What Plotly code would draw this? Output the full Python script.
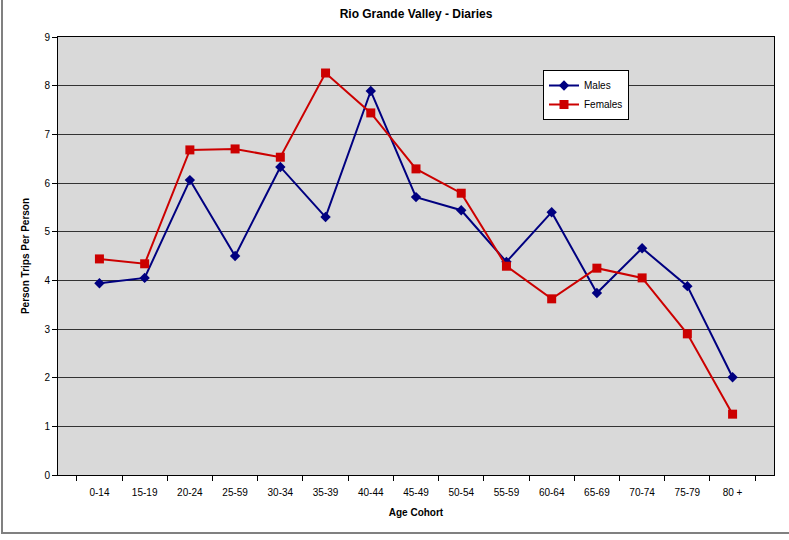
import plotly.graph_objects as go

cohortes = ['0-14', '15-19', '20-24', '25-59', '30-34', '35-39', '40-44', '45-49',
            '50-54', '55-59', '60-64', '65-69', '70-74', '75-79', '80 +']
males = [3.94, 4.05, 6.06, 4.50, 6.33, 5.30, 7.89, 5.71, 5.44, 4.38, 5.40, 3.74, 4.66, 3.88, 2.01]
females = [4.44, 4.34, 6.68, 6.70, 6.53, 8.26, 7.44, 6.29, 5.79, 4.29, 3.62, 4.25, 4.05, 2.90, 1.25]
y_ticks = list(range(0, 10))

fig = go.Figure()
fig.add_trace(go.Scatter(x=cohortes, y=males, name='Males', mode='lines+markers',
                         line=dict(color='#000080', width=2),
                         marker=dict(symbol='diamond', size=8, color='#000080')))
fig.add_trace(go.Scatter(x=cohortes, y=females, name='Females', mode='lines+markers',
                         line=dict(color='#CC0000', width=2),
                         marker=dict(symbol='square', size=9, color='#CC0000')))

fig.update_layout(
    width=789, height=540,
    margin=dict(l=58, r=15, t=37, b=65),
    paper_bgcolor='white', plot_bgcolor='#D9D9D9',
    font=dict(family='Liberation Sans, Arial', size=10, color='black'),
    title=dict(text='<b>Rio Grande Valley - Diaries</b>', x=0.5, xref='paper',
               y=0.974, yref='container', xanchor='center', yanchor='middle',
               font=dict(size=12)),
    showlegend=True,
    legend=dict(x=(543 - 58) / 716, y=(475 - 70) / 438, xanchor='left', yanchor='top',
                bgcolor='white', bordercolor='black', borderwidth=1,
                font=dict(size=10), tracegroupgap=0, itemwidth=30),
    shapes=[dict(type='rect', xref='paper', yref='paper',
                 x0=(2 - 58) / 716, x1=1.05, y0=(475 - 533) / 438, y1=1.2,
                 line=dict(color='#808080', width=2), fillcolor='rgba(0,0,0,0)',
                 layer='below')],
)
fig.update_xaxes(title=dict(text='<b>Age Cohort</b>', font=dict(size=10), standoff=11),
                 type='category', tickson='boundaries', ticks='outside', ticklen=5,
                 ticklabelstandoff=8,
                 tickcolor='black', showline=True, linecolor='black', linewidth=1,
                 mirror=True, showgrid=False, tickfont=dict(size=10))
fig.update_yaxes(title=dict(text='<b>Person Trips Per Person</b>', font=dict(size=10), standoff=12),
                 range=[0, 9], tickvals=y_ticks, ticks='outside', ticklen=5,
                 tickcolor='black', showline=True, linecolor='black', linewidth=1,
                 mirror=True, showgrid=True, gridcolor='#333333', gridwidth=1,
                 zeroline=False, tickfont=dict(size=10))

fig.write_html("out.html", config={'displayModeBar': False},
               post_script="document.body.style.margin='0';")
